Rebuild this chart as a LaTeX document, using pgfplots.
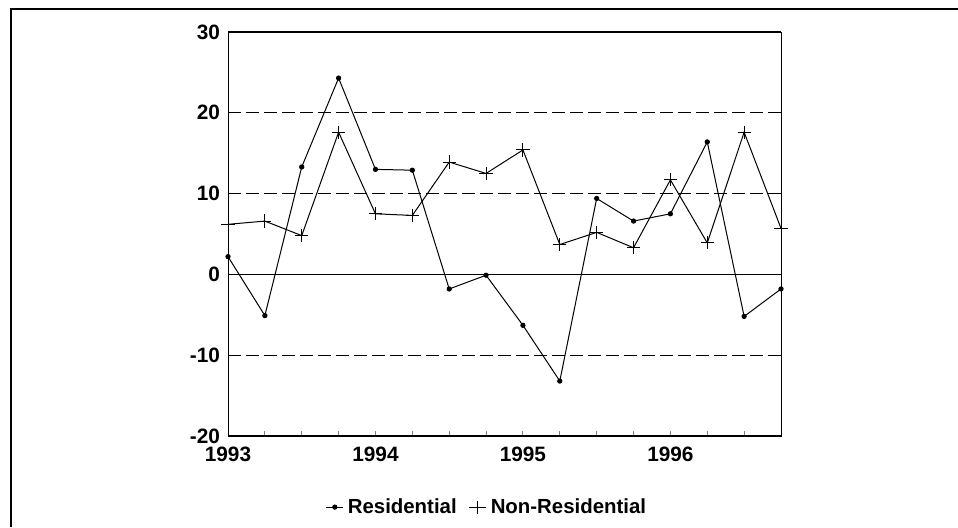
\documentclass[border=0pt]{standalone}
\usepackage{fontspec}
\setmainfont{Liberation Sans}
\usepackage{pgfplots}
\pgfplotsset{compat=1.18}
\begin{document}
\begin{tikzpicture}
\useasboundingbox (-114pt,-45.5pt) rectangle (365pt,218pt);
\begin{axis}[
  at={(0,0)}, anchor=south west, scale only axis,
  width=276.5pt, height=202pt,
  xmin=1993, xmax=1996.75, ymin=-20, ymax=30,
  axis line style={line width=0.5pt},
  xtick={1993,1993.25,1993.5,1993.75,1994,1994.25,1994.5,1994.75,1995,1995.25,1995.5,1995.75,1996,1996.25,1996.5,1996.75},
  xticklabels={1993,,,,1994,,,,1995,,,,1996,,,},
  xtick pos=bottom, tick align=inside, major tick length=2.6pt,
  xtick style={line width=0.5pt},
  ytick={-20,-10,0,10,20,30},
  yticklabels={-20,-10,0,10,20,30},
  ytick style={draw=none},
  /pgf/number format/assume math mode=true,
  ticklabel style={font=\bfseries\fontsize{10.4}{12}\selectfont},
  xticklabel style={yshift=-2pt},
  yticklabel style={xshift=-0.5pt},
  legend style={draw=none, fill=none, at={(axis description cs:0.47,-0.176)}, anchor=center,
    font=\bfseries\fontsize{10.2}{12}\selectfont, inner sep=0pt,
    /tikz/every even column/.append style={column sep=4pt}},
  legend columns=-1,
  legend image code/.code={\draw[mark repeat=2,mark phase=2] plot coordinates {(0cm,0cm) (0.15cm,0cm) (0.3cm,0cm)};},
  clip=false,
]
\draw[line width=0.5pt, dash pattern=on 6.5pt off 2.5pt] (axis cs:1993,20) -- (axis cs:1996.75,20);
\draw[line width=0.5pt, dash pattern=on 6.5pt off 2.5pt] (axis cs:1993,10) -- (axis cs:1996.75,10);
\draw[line width=0.5pt, dash pattern=on 6.5pt off 2.5pt] (axis cs:1993,-10) -- (axis cs:1996.75,-10);
\draw[line width=0.7pt] (axis cs:1993,0) -- (axis cs:1996.75,0);
\draw[line width=1pt] (axis cs:1993,-20) -- (axis cs:1996.75,-20);
\draw[line width=0.8pt] (axis cs:1993,30) -- (axis cs:1996.75,30);

\addplot[black, line width=0.5pt, mark=*, mark size=1.05pt] coordinates {
(1993,2.2) (1993.25,-5.1) (1993.5,13.3) (1993.75,24.3)
(1994,13.0) (1994.25,12.9) (1994.5,-1.8) (1994.75,-0.1)
(1995,-6.3) (1995.25,-13.2) (1995.5,9.4) (1995.75,6.6)
(1996,7.5) (1996.25,16.4) (1996.5,-5.2) (1996.75,-1.8)
};
\addlegendentry{Residential}
\addplot[black, line width=0.5pt, mark=+, mark size=3.3pt] coordinates {
(1993,6.2) (1993.25,6.6) (1993.5,4.8) (1993.75,17.6)
(1994,7.5) (1994.25,7.3) (1994.5,13.9) (1994.75,12.5)
(1995,15.4) (1995.25,3.7) (1995.5,5.2) (1995.75,3.3)
(1996,11.7) (1996.25,3.9) (1996.5,17.6) (1996.75,5.7)
};
\addlegendentry{Non-Residential}
\end{axis}
\draw[line width=1.3pt] (-108.5pt,-45.5pt) -- (-108.5pt,213.5pt) -- (365pt,213.5pt);
\end{tikzpicture}
\end{document}
